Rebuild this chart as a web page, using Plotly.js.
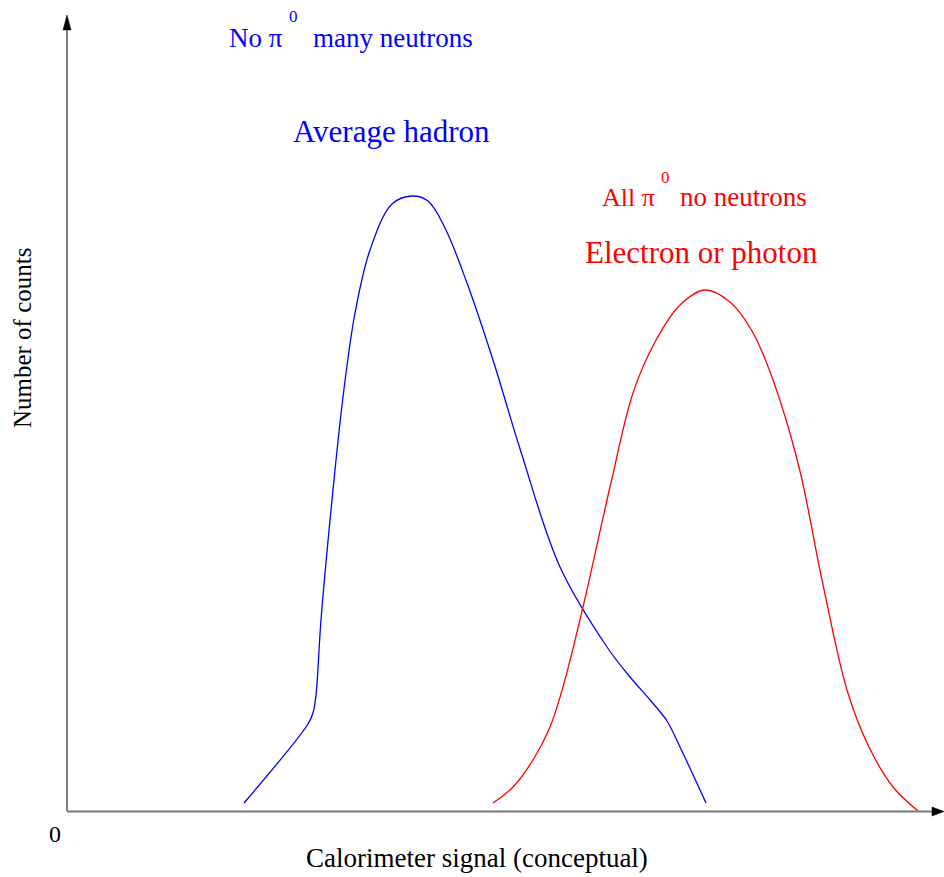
<!DOCTYPE html>
<html>
<head>
<meta charset="utf-8">
<script src="https://cdn.plot.ly/plotly-3.0.1.min.js"></script>
<style>
  html, body { margin: 0; padding: 0; background: #ffffff; }
  #chart { width: 944px; height: 877px; }
</style>
</head>
<body>
<div id="chart"></div>
<script>
// Conceptual calorimeter response: hadron vs electron/photon signal distributions
var hadronSignal = [177, 241, 246, 249, 254, 265, 276, 288, 303, 325, 345, 361, 378, 400, 426, 454, 493, 540, 563, 584, 600, 613, 639];
var hadronCounts = [8, 87, 98, 116, 191, 311, 414, 498, 561, 607, 615, 610, 583, 528, 451, 359, 244, 164, 134, 110, 90, 64, 8];

var emSignal = [426, 446, 466, 483, 496, 516, 543, 566, 588, 613, 638, 663, 685, 706, 732, 755, 780, 801, 826, 851];
var emCounts = [8, 24, 51, 84, 124, 204, 324, 418, 469, 506, 521, 509, 480, 431, 344, 231, 121, 66, 24, 0];

var serif = "'Liberation Serif', 'Times New Roman', serif";

var traces = [
  {
    x: hadronSignal, y: hadronCounts, type: 'scatter', mode: 'lines',
    line: { color: '#0000ff', width: 1.3, shape: 'spline', smoothing: 1.0 },
    hoverinfo: 'skip'
  },
  {
    x: emSignal, y: emCounts, type: 'scatter', mode: 'lines',
    line: { color: '#ff0000', width: 1.3, shape: 'spline', smoothing: 1.0 },
    hoverinfo: 'skip'
  }
];

function label(text, x, y, size, color, anchor) {
  return {
    text: text, x: x, y: y, xref: 'x', yref: 'y', showarrow: false,
    xanchor: anchor || 'left', yanchor: 'middle',
    font: { family: serif, size: size, color: color }
  };
}

var annotations = [
  label('No π', 160, 773, 27, '#0000ff'),
  label('0', 226, 795, 17, '#0000ff', 'center'),
  label('many neutrons', 244, 773, 27, '#0000ff'),
  label('Average hadron', 324, 680, 31, '#0000ff', 'center'),
  label('All π', 533, 614, 26, '#ff0000'),
  label('0', 598, 634, 17, '#ff0000', 'center'),
  label('no neutrons', 611, 614, 27, '#ff0000'),
  label('Electron or photon', 634, 559, 31, '#ff0000', 'center'),
  {
    text: '0', xref: 'paper', yref: 'paper', x: -0.00225, y: -0.0159,
    xanchor: 'center', yanchor: 'middle', showarrow: false,
    font: { family: serif, size: 24, color: '#000000' }
  },
  {
    text: 'Calorimeter signal (conceptual)', xref: 'paper', yref: 'paper', x: 0.4735, y: -0.0453,
    xanchor: 'center', yanchor: 'middle', showarrow: false,
    font: { family: serif, size: 27, color: '#000000' }
  },
  {
    text: 'Number of counts', xref: 'paper', yref: 'paper', x: -0.0395, y: 0.593,
    xanchor: 'center', yanchor: 'middle', showarrow: false, textangle: -90,
    font: { family: serif, size: 25, color: '#000000' }
  }
];

// Axis lines with arrowheads
var shapes = [
  { type: 'line', xref: 'x', yref: 'y', x0: 0, y0: 0, x1: 0, y1: 784,
    line: { color: '#000000', width: 1 } },
  { type: 'path', xref: 'x', yref: 'y', path: 'M -4,781 L 4,781 L 0,796 Z',
    fillcolor: '#000000', line: { color: '#000000', width: 0.5 } },
  { type: 'line', xref: 'x', yref: 'y', x0: 0, y0: -0.5, x1: 868, y1: -0.5,
    line: { color: '#7a7a7a', width: 2 } },
  { type: 'path', xref: 'x', yref: 'y', path: 'M 865,-5 L 865,4 L 877,-0.5 Z',
    fillcolor: '#000000', line: { color: '#000000', width: 0.5 } }
];

var layout = {
  width: 944, height: 877,
  margin: { l: 57, r: 0, t: 5, b: 56 },
  paper_bgcolor: '#ffffff', plot_bgcolor: '#ffffff',
  showlegend: false, hovermode: false,
  xaxis: { range: [-10, 877], visible: false, showgrid: false, zeroline: false, fixedrange: true },
  yaxis: { range: [-10, 806], visible: false, showgrid: false, zeroline: false, fixedrange: true },
  annotations: annotations,
  shapes: shapes
};

Plotly.newPlot('chart', traces, layout, { staticPlot: true, displayModeBar: false });
</script>
</body>
</html>
